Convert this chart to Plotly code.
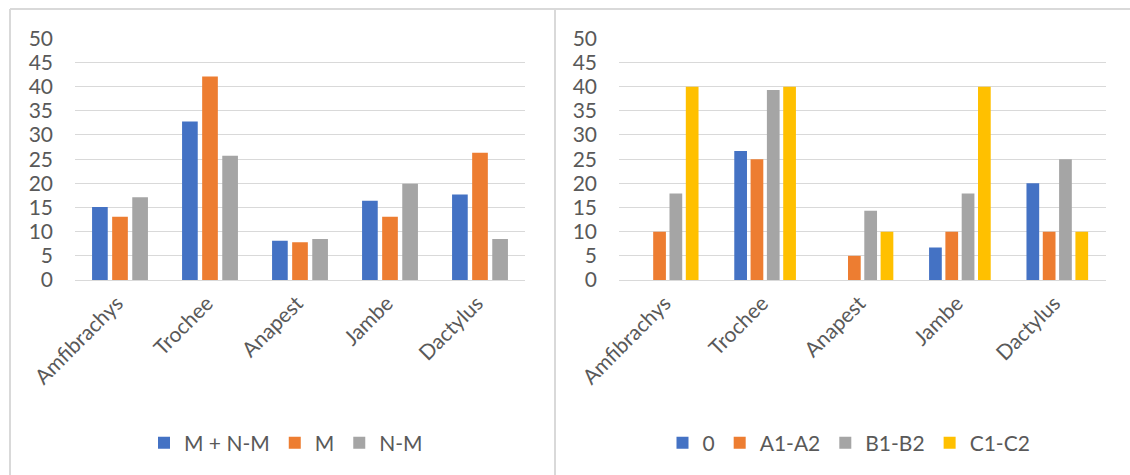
import plotly.graph_objects as go

# Categories (metrical feet)
feet = ["Amfibrachys", "Trochee", "Anapest", "Jambe", "Dactylus"]

# Left chart series
left_names = ["M + N-M", "M", "N-M"]
left_mnm = [15.1, 32.8, 8.1, 16.4, 17.7]
left_m = [13.1, 42.1, 7.8, 13.1, 26.3]
left_nm = [17.1, 25.7, 8.5, 19.9, 8.5]

# Right chart series
right_names = ["0", "A1-A2", "B1-B2", "C1-C2"]
right_0 = [0, 26.7, 0, 6.7, 20]
right_a = [10, 25, 5, 10, 10]
right_b = [17.9, 39.3, 14.3, 17.9, 25]
right_c = [40, 40, 10, 40, 10]

y_ticks = [0, 5, 10, 15, 20, 25, 30, 35, 40, 45, 50]

colors = ["#4472C4", "#ED7D31", "#A5A5A5", "#FFC000"]
TEXT = "#595959"
GRID = "#D9D9D9"
FONT = "Lato"

W, H = 1130, 475

fig = go.Figure()

for name, vals, col in zip(left_names, [left_mnm, left_m, left_nm], colors):
    fig.add_trace(go.Bar(x=feet, y=vals, name=name, marker_color=col,
                         marker_line_width=0, xaxis="x", yaxis="y",
                         legend="legend"))

for name, vals, col in zip(right_names, [right_0, right_a, right_b, right_c], colors):
    fig.add_trace(go.Bar(x=feet, y=vals, name=name, marker_color=col,
                         marker_line_width=0, xaxis="x2", yaxis="y2",
                         legend="legend2"))

y_bottom = 1 - 280 / H
y_top = 1 - 38.3 / H

xaxis_common = dict(
    showgrid=False, zeroline=False, showline=False, ticks="",
    tickangle=-45, tickfont=dict(family=FONT, size=21, color=TEXT),
    ticklabelstandoff=6, ticklabelshift=-3, fixedrange=True, automargin=False,
)
yaxis_common = dict(
    range=[0, 50], tickvals=y_ticks, showgrid=True, gridcolor=GRID,
    gridwidth=1.3, zeroline=True, zerolinecolor=GRID, zerolinewidth=1.3,
    showline=False, ticks="", domain=[y_bottom, y_top],
    tickfont=dict(family=FONT, size=21, color=TEXT),
    ticklabelstandoff=21, fixedrange=True, automargin=False,
)

legend_common = dict(
    orientation="h", yanchor="middle", xanchor="center",
    y=1 - 443 / H, font=dict(family=FONT, size=21, color=TEXT),
    bgcolor="rgba(0,0,0,0)", itemclick=False, itemdoubleclick=False,
)

fig.update_layout(
    width=W, height=H,
    margin=dict(l=0, r=0, t=0, b=0, pad=0, autoexpand=False),
    paper_bgcolor="white", plot_bgcolor="white",
    barmode="group", bargap=0.33, bargroupgap=0.22,
    xaxis=dict(domain=[75 / W, 525 / W], anchor="y", **xaxis_common),
    yaxis=dict(anchor="x", **yaxis_common),
    xaxis2=dict(domain=[619 / W, 1106 / W], anchor="y2", **xaxis_common),
    yaxis2=dict(anchor="x2", **yaxis_common),
    legend=dict(x=286 / W, **legend_common),
    legend2=dict(x=849 / W, **legend_common),
    showlegend=True,
)

# Chart frames: top edge, left edge and the divider between the two charts
frame = dict(type="line", xref="paper", yref="paper",
             line=dict(color=GRID, width=2), layer="below")
fig.add_shape(x0=10 / W, x1=1, y0=1 - 9 / H, y1=1 - 9 / H, **frame)
fig.add_shape(x0=10 / W, x1=10 / W, y0=0, y1=1 - 9 / H, **frame)
fig.add_shape(x0=555 / W, x1=555 / W, y0=0, y1=1 - 9 / H, **frame)

fig.write_html("out.html")
